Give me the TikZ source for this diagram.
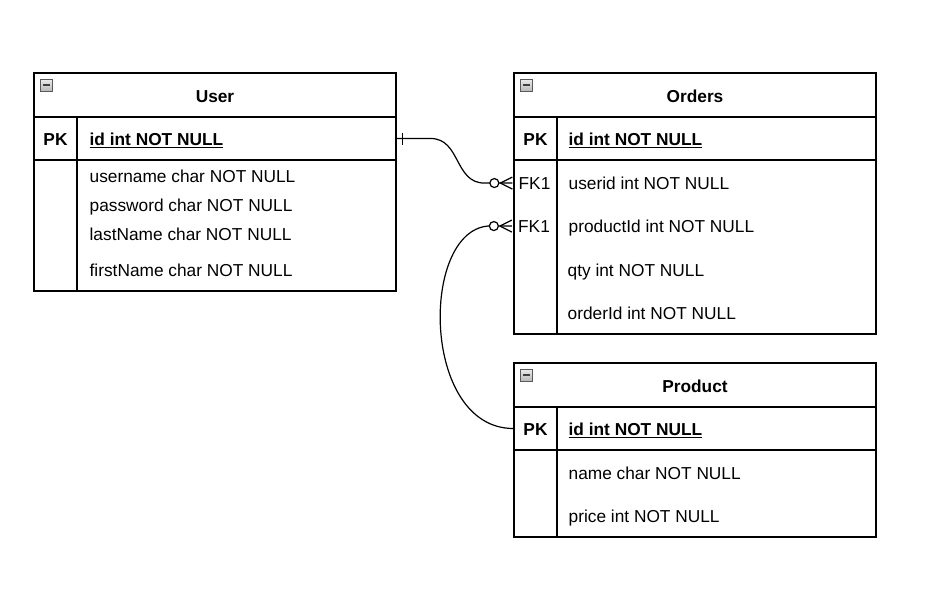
\documentclass[tikz,border=0pt]{standalone}
\usepackage{fontspec}
\setmainfont{Liberation Sans}
\usetikzlibrary{positioning, decorations.markings}

\begin{document}
\begin{tikzpicture}[x=1pt, y=-1pt, line width=1.3pt, font=\fontsize{17.3}{20}\selectfont,
        tbl/.style={draw, minimum width=362pt, inner sep=0pt},
        keycell/.style={minimum width=43pt, minimum height=43pt, inner sep=0pt, anchor=base},
        field/.style={anchor=base west, inner sep=0pt},
        toggle/.style={draw=gray!70!black, top color=gray!15, bottom color=gray!55, minimum size=12pt, inner sep=0pt, line width=0.8pt,
          path picture={\draw[line width=1.6pt, black!75] ([xshift=2.5pt]path picture bounding box.west) -- ([xshift=-2.5pt]path picture bounding box.east);}},
        link/.style={line width=1.2pt},
        one start/.style={postaction={decorate, decoration={markings,
          mark=at position 6pt with {\draw[line width=1.2pt] (0,-6) -- (0,6);}}}},
        zero many end/.style={postaction={decorate, decoration={markings,
          mark=at position 1 with {\draw[line width=1.2pt] (-12,0) -- (0,-6) (-12,0) -- (0,6);
            \draw[line width=1.2pt, fill=white] (-18,0) circle (4.5);}}}}]

        \useasboundingbox (0,0) rectangle (943,608);

        % User
        \node[tbl, minimum height=44pt] (userHead) at (215,95) {};
        \node[tbl, minimum height=43pt] (userPK) at (215,138.5) {};
        \node[tbl, minimum height=131pt] (userBody) at (215,225.5) {};
        \draw (77,117) -- (77,291);
        \node[toggle] (userToggle) at (46,85) {};
        \node[anchor=base] (userTitle) at (215,102) {\textbf{User}};
        \node[keycell] (userPKkey) at (55.5,145) {\textbf{PK}};
        \node[field] (userId) at (89,145.5) {\textbf{\underline{id int NOT NULL}}};
        \node[field] (userName) at (89,182) {username char NOT NULL};
        \node[field] (userPass) at (89,211.5) {password char NOT NULL};
        \node[field] (userLast) at (89,240) {lastName char NOT NULL};
        \node[field] (userFirst) at (89,276.5) {firstName char NOT NULL};

        % Orders
        \node[tbl, minimum height=44pt] (ordHead) at (695,95) {};
        \node[tbl, minimum height=43pt] (ordPK) at (695,138.5) {};
        \node[tbl, minimum height=174pt] (ordBody) at (695,247) {};
        \draw (557,117) -- (557,334);
        \node[toggle] (ordToggle) at (526,85) {};
        \node[anchor=base] (ordTitle) at (695,102) {\textbf{Orders}};
        \node[keycell] (ordPKkey) at (535.5,145) {\textbf{PK}};
        \node[field] (ordId) at (568,145.5) {\textbf{\underline{id int NOT NULL}}};
        \node[keycell] (ordUserFK) at (534.5,189) {FK1};
        \node[field] (ordUser) at (568,189) {userid int NOT NULL};
        \node[keycell] (ordProdFK) at (534,232) {FK1};
        \node[field] (ordProd) at (568,232) {productId int NOT NULL};
        \node[field] (ordQty) at (567,276) {qty int NOT NULL};
        \node[field] (ordOrder) at (567,319) {orderId int NOT NULL};

        % Product
        \node[tbl, minimum height=44pt] (prodHead) at (695,385) {};
        \node[tbl, minimum height=43pt] (prodPK) at (695,428.5) {};
        \node[tbl, minimum height=87pt] (prodBody) at (695,493.5) {};
        \draw (557,407) -- (557,537);
        \node[toggle] (prodToggle) at (526,375) {};
        \node[anchor=base] (prodTitle) at (695,392) {\textbf{Product}};
        \node[keycell] (prodPKkey) at (535.5,435) {\textbf{PK}};
        \node[field] (prodId) at (568,435.5) {\textbf{\underline{id int NOT NULL}}};
        \node[field] (prodName) at (568,479) {name char NOT NULL};
        \node[field] (prodPrice) at (568,522) {price int NOT NULL};

        % relations
        \draw[link, one start, zero many end] (userPK.east) -- ++(34,0)
          .. controls +(30,0) and +(-30,0) .. ([xshift=-28pt]ordUserFK.west) -- (ordUserFK.west);
        \draw[link, zero many end] (prodPK.west)
          .. controls +(-92,0) and +(-68,6) .. ([xshift=-24pt]ordProdFK.west) -- (ordProdFK.west);

      \end{tikzpicture}
\end{document}
